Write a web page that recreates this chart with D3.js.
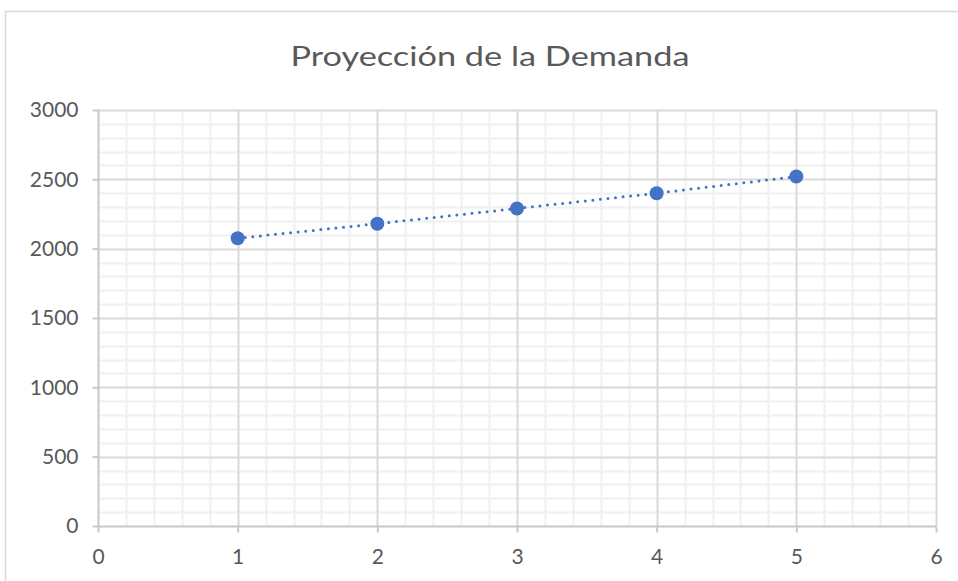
<!DOCTYPE html>
<html>
<head>
<meta charset="utf-8">
<script src="https://cdn.jsdelivr.net/npm/d3@7"></script>
<style>
  html, body { margin: 0; padding: 0; background: #ffffff; }
  svg { display: block; }
</style>
</head>
<body>
<svg id="chart" width="958" height="581"></svg>
<script>
// Demand projection by period
const periods = [1, 2, 3, 4, 5];
const demand = [2075, 2180, 2290, 2400, 2520];
const xTicks = [0, 1, 2, 3, 4, 5, 6];
const yTicks = [0, 500, 1000, 1500, 2000, 2500, 3000];
const title = "Proyección de la Demanda";

const svg = d3.select("#chart");
const W = 958, H = 581;
const plot = { left: 98, right: 936, top: 110, bottom: 526 };
const font = "Lato, 'Open Sans', sans-serif";
const textColor = "#595959";

// Chart area border (extends past the visible frame on the right and bottom)
svg.append("rect")
  .attr("x", 5.5).attr("y", 11.5)
  .attr("width", W + 10).attr("height", H + 10)
  .attr("fill", "#ffffff")
  .attr("stroke", "#d9d9d9")
  .attr("stroke-width", 1.5);

const x = d3.scaleLinear().domain([0, 6]).range([plot.left, plot.right]);
const y = d3.scaleLinear().domain([0, 3000]).range([plot.bottom, plot.top]);

const grid = svg.append("g");

// Minor gridlines
const xMinor = d3.range(0, 6.0001, 0.2).filter(v => Math.abs(v - Math.round(v)) > 1e-6);
const yMinor = d3.range(0, 3001, 100).filter(v => v % 500 !== 0);
grid.selectAll(".vminor").data(xMinor).enter().append("line")
  .attr("x1", d => Math.round(x(d)) + 0.5).attr("x2", d => Math.round(x(d)) + 0.5)
  .attr("y1", plot.top).attr("y2", plot.bottom)
  .attr("stroke", "#f0f0f0").attr("stroke-width", 2);
grid.selectAll(".hminor").data(yMinor).enter().append("line")
  .attr("x1", plot.left).attr("x2", plot.right)
  .attr("y1", d => Math.round(y(d)) + 0.5).attr("y2", d => Math.round(y(d)) + 0.5)
  .attr("stroke", "#f0f0f0").attr("stroke-width", 2);

// Major gridlines
grid.selectAll(".vmajor").data(xTicks.slice(1)).enter().append("line")
  .attr("x1", d => Math.round(x(d)) + 0.5).attr("x2", d => Math.round(x(d)) + 0.5)
  .attr("y1", plot.top).attr("y2", plot.bottom)
  .attr("stroke", "#d9d9d9").attr("stroke-width", 2);
grid.selectAll(".hmajor").data(yTicks.slice(1)).enter().append("line")
  .attr("x1", plot.left).attr("x2", plot.right)
  .attr("y1", d => Math.round(y(d)) + 0.5).attr("y2", d => Math.round(y(d)) + 0.5)
  .attr("stroke", "#d9d9d9").attr("stroke-width", 2);

// Axes
const yAxis = svg.append("g")
  .attr("transform", `translate(${plot.left + 0.5},0)`)
  .call(d3.axisLeft(y).tickValues(yTicks).tickSize(6).tickPadding(14).tickFormat(d3.format("d")));
const xAxis = svg.append("g")
  .attr("transform", `translate(0,${plot.bottom + 0.5})`)
  .call(d3.axisBottom(x).tickValues(xTicks).tickSize(6).tickPadding(17).tickFormat(d3.format("d")));

[yAxis, xAxis].forEach(a => {
  a.select(".domain").attr("stroke", "#c8c8c8").attr("stroke-width", 2);
  a.selectAll(".tick line").attr("stroke", "#c8c8c8").attr("stroke-width", 2);
  a.selectAll(".tick text")
    .attr("fill", textColor)
    .style("font-family", font)
    .style("font-size", "21px");
});
// keep the domain flush with the plot area (no outer tick caps)
yAxis.select(".domain").attr("d", `M0,${plot.top}V${plot.bottom}`);
xAxis.select(".domain").attr("d", `M${plot.left},0H${plot.right}`);

// Series: dotted trend line with round markers
const line = d3.line().x((d, i) => x(periods[i])).y(d => y(d));
svg.append("path")
  .datum(demand)
  .attr("d", line)
  .attr("fill", "none")
  .attr("stroke", "#4472c4")
  .attr("stroke-width", 3)
  .attr("stroke-linecap", "round")
  .attr("stroke-dasharray", "0 7.6");

svg.selectAll(".pt").data(demand).enter().append("circle")
  .attr("cx", (d, i) => x(periods[i]))
  .attr("cy", d => y(d))
  .attr("r", 7)
  .attr("fill", "#4472c4");

// Title
svg.append("text")
  .attr("x", 490).attr("y", 66)
  .attr("text-anchor", "middle")
  .attr("fill", textColor)
  .style("font-family", font)
  .style("font-size", "26px")
  .attr("textLength", 399)
  .attr("lengthAdjust", "spacingAndGlyphs")
  .text(title);
</script>
</body>
</html>
